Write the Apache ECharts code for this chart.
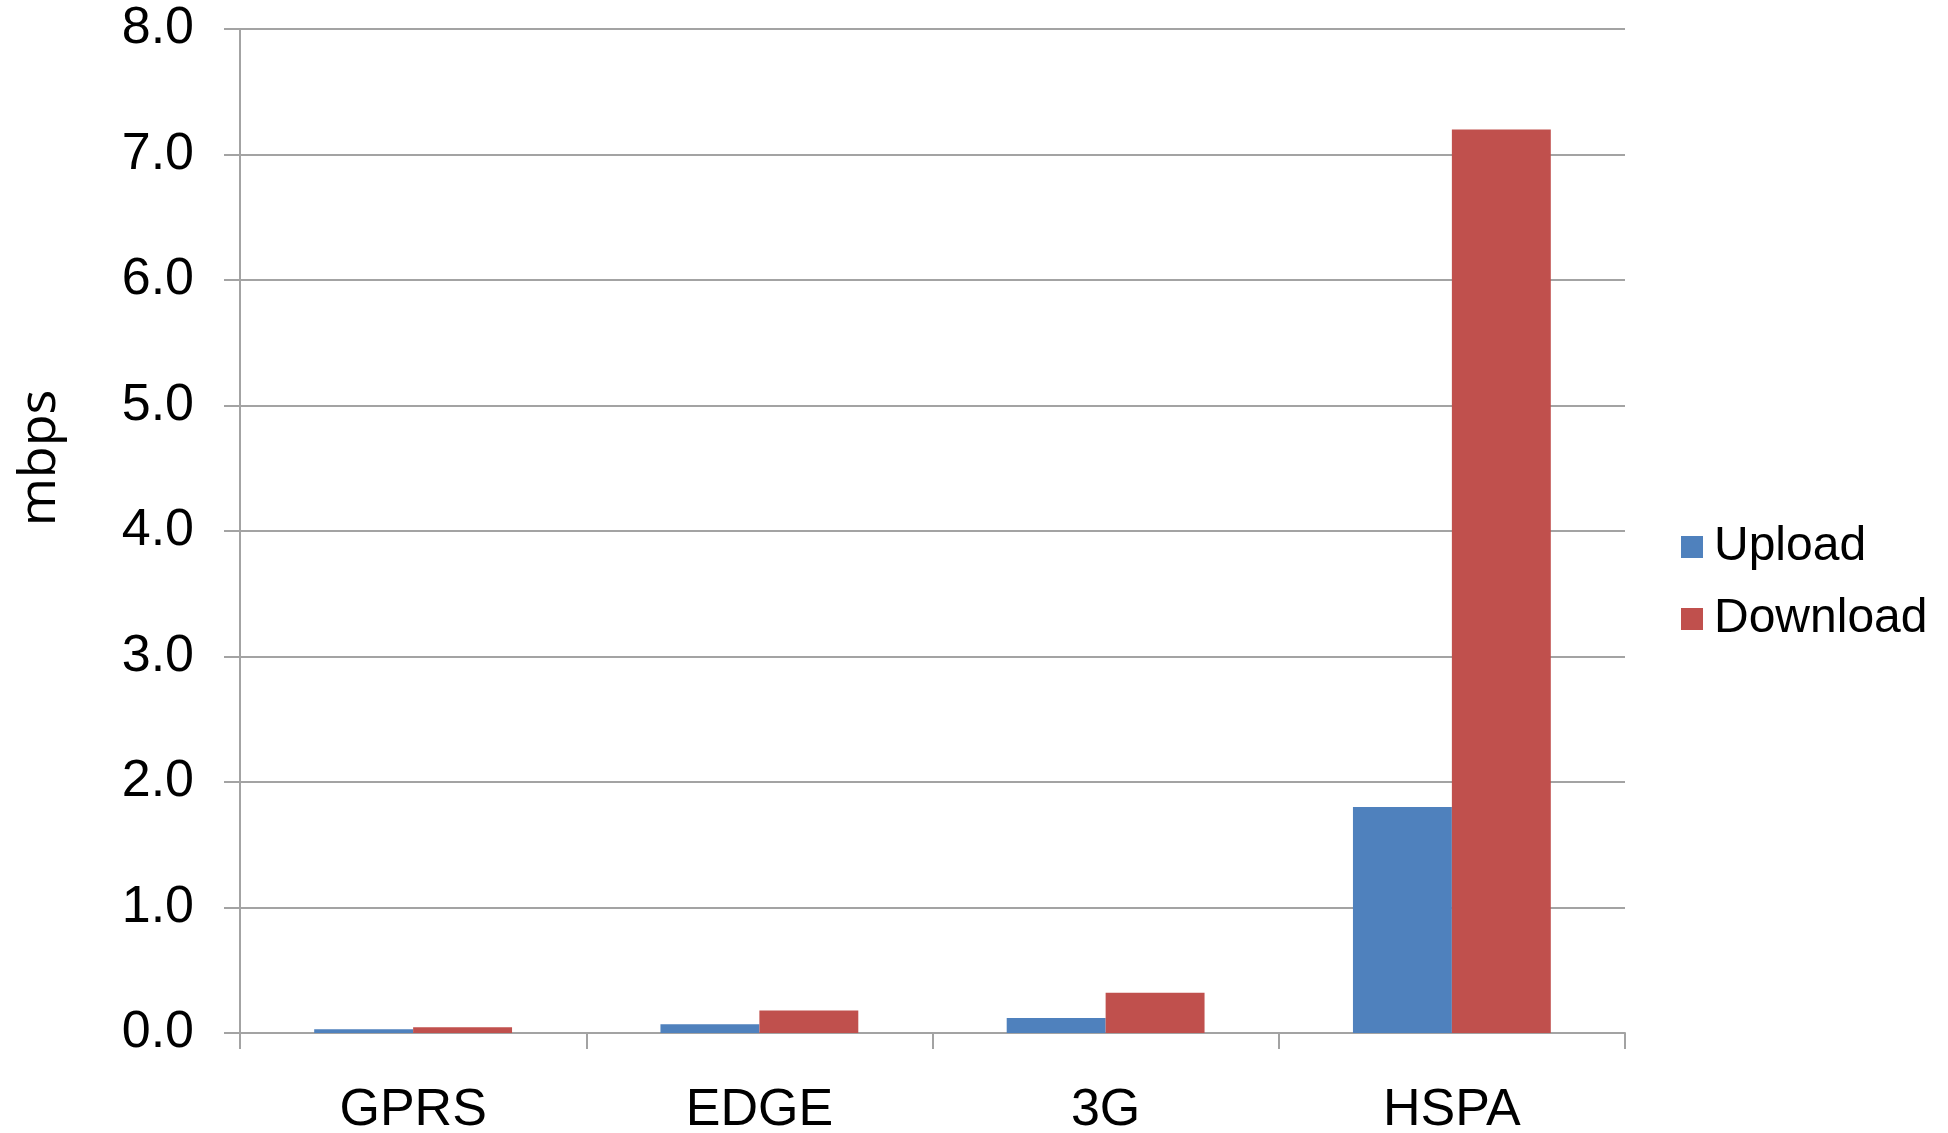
<!DOCTYPE html>
<html>
<head>
<meta charset="utf-8">
<title>mbps</title>
<script src="https://cdn.jsdelivr.net/npm/echarts@6/dist/echarts.min.js"></script>
<style>
  html, body { margin: 0; padding: 0; background: #ffffff; }
  #chart { width: 1948px; height: 1133px; }
</style>
</head>
<body>
<div id="chart"></div>
<script>
// Network technologies on the category axis
const categories = ['GPRS', 'EDGE', '3G', 'HSPA'];
// Throughput in mbps
const uploadValues = [0.03, 0.07, 0.12, 1.8];
const downloadValues = [0.045, 0.18, 0.32, 7.2];
const seriesNames = ['Upload', 'Download'];

const gridColor = '#a3a3a3';
const font = '"Liberation Sans", Arial, sans-serif';

const chart = echarts.init(document.getElementById('chart'), null, { renderer: 'canvas' });

chart.setOption({
  animation: false,
  backgroundColor: '#ffffff',
  grid: {
    left: 240, right: 323, top: 29, bottom: 100,
    containLabel: false,
    outerBoundsMode: 'none'
  },
  legend: {
    orient: 'vertical',
    left: 1676,
    top: 517,
    itemWidth: 22,
    itemHeight: 22,
    itemGap: 22,
    icon: 'rect',
    data: seriesNames,
    textStyle: {
      fontFamily: font,
      fontSize: 48,
      lineHeight: 50,
      color: '#000000',
      padding: [0, 0, 0, 6]
    }
  },
  xAxis: {
    type: 'category',
    data: categories,
    boundaryGap: true,
    axisLine: { show: true, lineStyle: { color: gridColor, width: 2 } },
    axisTick: { show: true, length: 16, alignWithLabel: false, lineStyle: { color: gridColor, width: 2 } },
    axisLabel: { fontFamily: font, fontSize: 52, color: '#000000', margin: 52 },
    splitLine: { show: false }
  },
  yAxis: {
    type: 'value',
    min: 0,
    max: 8,
    interval: 1,
    axisLine: { show: true, lineStyle: { color: gridColor, width: 2 } },
    axisTick: { show: true, length: 16, lineStyle: { color: gridColor, width: 2 } },
    axisLabel: {
      fontFamily: font,
      fontSize: 52,
      color: '#000000',
      margin: 46,
      formatter: v => v.toFixed(1)
    },
    splitLine: { show: true, lineStyle: { color: gridColor, width: 2 } }
  },
  graphic: [{
    type: 'text',
    x: 40,
    y: 458,
    rotation: Math.PI / 2,
    style: {
      text: 'mbps',
      fontFamily: '"Open Sans", sans-serif',
      fontSize: 52,
      fill: '#000000',
      align: 'center',
      verticalAlign: 'middle'
    }
  }],
  series: [
    {
      name: seriesNames[0],
      type: 'bar',
      data: uploadValues,
      barGap: '0%',
      barCategoryGap: '42.86%',
      itemStyle: { color: '#4f81bd' }
    },
    {
      name: seriesNames[1],
      type: 'bar',
      data: downloadValues,
      barGap: '0%',
      barCategoryGap: '42.86%',
      itemStyle: { color: '#c0504d' }
    }
  ]
});
</script>
</body>
</html>
